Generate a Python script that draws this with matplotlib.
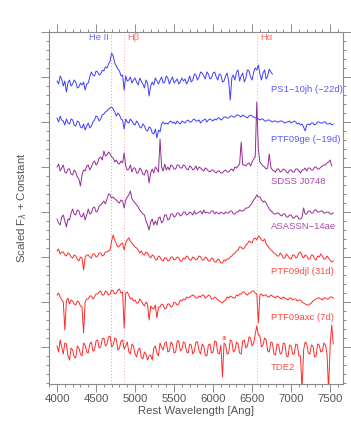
import matplotlib
matplotlib.use("Agg")
import matplotlib.pyplot as plt
from matplotlib.ticker import MultipleLocator
import numpy as np

plt.rcParams['font.family'] = ['Liberation Sans', 'DejaVu Sans']

# ---------------- data (relative flux, 20 A sampling) ----------------
wl_ps1 = np.arange(4000, 6761, 20)
fx_ps1 = [-3, -6, 2, -1, -8, -3, -14, -5, -2, -8,
          -6, -2, -4, -10, -9, -5, -7, -4, -12, -6,
          -5, 1, 6, 3, 2, 7, 6, 3, 4, 8,
          7, 11, 10, 14, 17, 25, 22, 15, 12, 9,
          7, 2, 3, -12, 2, -3, -2, 1, -5, -2,
          0, -4, -7, 0, -3, -6, -10, -2, -5, -18,
          -8, -4, -7, 0, -3, -6, -2, 1, -5, -4,
          2, 0, -6, -2, 1, -5, -3, -1, -6, -4,
          0, -3, -1, -6, -3, 2, -4, -2, 4, 3,
          -2, 1, 6, 5, 2, -1, 6, 4, -1, 0,
          5, 6, 1, -2, 4, 3, -4, -3, 2, 5,
          -3, -22, 0, 3, -2, 6, 8, -3, 2, 5,
          -4, 0, 8, 7, 1, -2, 6, 10, 8, 13,
          4, -2, 5, 8, -1, 2, 9, 6, 4]

wl_ge = np.arange(4000, 7541, 20)
fx_ge = [2, -2, 4, 0, -1, -5, 1, -3, -4, 1,
         0, -5, -6, -1, -2, -7, -8, -4, -10, -6,
         -3, -8, -6, -2, 0, 4, 3, -1, 1, 5,
         6, 8, 9, 11, 12, 13, 11, 8, 4, 7,
         5, 1, 0, -9, 1, -2, -3, 1, -1, -4,
         -5, -1, -3, -7, -8, -4, -6, -10, -11, -7,
         -8, -13, -14, -9, -18, -10, -12, -4, -2, -4,
         -3, -4, -2, -1, -3, -2, -4, -1, -3, -4,
         -1, -2, -3, -1, 0, -2, -2, 0, 1, -1,
         -1, 0, -3, -1, 0, 1, -2, 0, 1, 0,
         -1, 1, 0, 2, 2, 0, 1, 3, 3, 2,
         2, 4, 4, 3, 3, 5, 5, 4, 3, 5,
         4, 3, 2, 4, 5, 4, 3, 2, 2, 1,
         0, 1, 1, -1, -1, 0, 0, -1, -2, -1,
         -1, -2, -2, -1, -1, -2, -3, -2, -2, -1,
         -3, -2, -1, -2, -4, -3, -5, -4, -7, -11,
         -5, -4, -5, -3, -3, -5, -4, -2, -2, -3,
         -3, -2, -2, -4, -4, -3, -5, -4]

wl_sdss = np.arange(4000, 7521, 20)
fx_sdss = [0, 3, -4, -1, 2, -5, -6, -2, -2, -7,
           -8, -3, -5, -10, -12, -19, -8, -3, -4, 1,
           2, -3, 0, 4, 6, 2, 4, 9, 10, 7,
           16, 11, 12, 15, 13, 10, 9, 5, 7, 4,
           3, 6, 4, 14, 1, -3, -2, 2, -5, -1,
           -1, -6, -6, -1, -3, -7, -8, -3, -4, -16,
           -6, -2, -6, 0, -2, -5, 28, 0, -4, 3,
           -3, 0, -3, 2, 1, -2, -2, 2, 2, -1,
           -1, 2, 1, -2, -3, 1, 0, -3, -2, 1,
           -3, 0, -1, -3, -4, -1, -2, -4, -5, -3,
           -3, -5, -6, -4, -4, -6, -6, -4, -3, -5,
           -5, -3, -2, -4, 0, -1, 1, 3, 25, 2,
           2, 1, 3, 4, 1, 5, 8, 10, 65, 18,
           5, 3, 1, 0, -2, -1, 13, 0, -3, -4,
           -5, -2, -2, -5, -4, -2, -3, -5, -6, -3,
           -3, -5, -5, -2, -2, -4, -6, -3, -3, -1,
           -4, -1, -1, -3, -3, 0, 0, -2, -2, 0,
           1, 2, 2, 4, 5, 7, 1]

wl_asn = np.arange(4000, 7541, 20)
fx_asn = [-2, -6, -8, 0, 2, -4, -10, -2, -3, 4,
          8, 3, 2, 7, 6, 1, 0, 4, -3, 2,
          8, 3, 4, 9, 10, 5, 6, 11, 12, 14,
          16, 13, 18, 23, 22, 19, 20, 18, 17, 15,
          14, 17, 16, 9, 17, 20, 22, 26, 18, 16,
          14, 12, 10, 7, 5, 3, 2, -4, -8, -13,
          -5, -2, -8, -4, -8, -1, 0, -6, -4, 2,
          2, -3, -2, 3, 3, 0, 1, 4, 4, 1,
          2, 5, 5, 2, 3, 5, 4, 2, 6, 3,
          4, 5, 6, 3, 7, 4, 5, 4, 4, 6,
          6, 3, 5, 4, 3, 5, 4, 3, 5, 4,
          4, 6, 6, 3, 3, 5, 5, 7, 6, 6,
          7, 9, 9, 10, 12, 14, 17, 19, 22, 20,
          20, 17, 15, 16, 14, 11, 8, 6, 5, 3,
          3, 4, 4, 2, 1, 3, 3, 0, 0, 2,
          2, -1, -1, 1, 1, -2, -2, 0, 9, 3,
          3, 6, 6, 4, 4, 7, 7, 5, 5, 6,
          6, 4, 4, 5, 5, 3, 3, 4]

wl_djl = np.arange(4000, 7541, 20)
fx_djl = [2, 4, -1, 1, 1, -2, -3, 0, -1, -4,
          -5, -2, -3, -6, -8, -4, -5, -17, -4, -2,
          -2, -4, -5, -1, -1, -4, -3, 0, 0, -3,
          -2, 1, 1, 2, 3, 12, 18, 13, 9, 6,
          7, 9, 10, 3, 10, 13, 15, 12, 10, 8,
          6, 5, 3, 0, 2, -1, -2, 1, 0, -3,
          -5, -2, -3, -6, -7, -3, -4, -7, -8, -5,
          -5, -8, -7, -4, -4, -7, -6, -4, -5, -8,
          -8, -5, -6, -3, -4, -7, -7, -4, -5, -7,
          -6, -3, -4, -7, -7, -4, -5, -8, -8, -5,
          -6, -9, -9, -6, -7, -10, -10, -7, -8, -6,
          -6, -4, -3, -1, 0, 2, 3, 6, 6, 4,
          5, 8, 9, 12, 11, 10, 14, 15, 13, 17,
          16, 13, 12, 14, 9, 7, 5, 3, 2, 0,
          -1, -3, -3, 0, -2, -5, -5, -1, -3, -5,
          -6, -2, -2, -5, -4, 0, 1, -3, -5, -2,
          -3, -6, -6, -2, -2, -6, -7, -3, -4, -1,
          -3, -6, -6, -3, -5, -7, -9, -8]

wl_axc = np.arange(4000, 7541, 20)
fx_axc = [3, 5, 1, -2, -4, -32, -3, 0, -6, -2,
          -3, -6, -7, -3, -4, -8, -9, -35, -4, -1,
          -1, 2, 2, -1, 1, 4, 4, 6, 7, 3,
          3, 7, 6, 3, 4, 8, 7, 4, 5, 8,
          9, 5, 6, -30, 5, 6, 3, -1, 0, -3,
          -2, -5, -5, -1, -3, -6, -8, -4, -6, -22,
          -8, -10, -11, -7, -20, -9, -9, -6, -7, -11,
          -10, -6, -6, -9, -8, -4, -5, -7, -6, -2,
          -3, -1, -2, 1, 0, 1, 2, 3, 2, 0,
          0, 2, 1, 3, 3, 0, 1, 3, 2, -1,
          -1, 1, 0, -2, -3, -4, -5, -3, -2, 1,
          0, 2, 1, 0, 0, 3, 2, 4, 4, 6,
          6, 4, 3, 5, 5, 7, 7, 5, 4, -25,
          3, 4, 2, 3, 3, 1, 1, 3, 2, 1,
          0, 2, 1, 0, -1, 1, 0, -1, -2, 0,
          0, -2, -1, -1, -3, -2, -2, -4, -5, -6,
          -7, -7, -6, -5, -3, -2, -1, 0, 0, -1,
          -2, 0, 0, -1, -1, 1, 1, 0]

wl_tde2 = np.arange(4000, 7541, 20)
fx_tde2 = [2, -4, 8, 1, -6, 5, 4, -8, -12, 0,
           -2, -9, -10, 2, 0, -6, -8, 5, 3, -4,
           -5, 4, 6, -3, -2, 7, 8, 0, 1, 9,
           10, 2, 4, 11, 12, 1, 3, 10, 9, -2,
           0, 7, 8, -1, 2, 6, -4, -6, 4, 2,
           -6, -9, -2, 0, -9, -11, -4, -6, -12, -8,
           -7, -12, 0, 2, -5, -8, 5, 1, -2, 5,
           6, -4, -3, 6, 4, -5, -4, 7, 7, -3,
           -1, 6, 5, -4, -5, 4, 3, -6, -3, 6,
           6, -3, -6, 4, 2, -7, -8, 3, 4, -5,
           -4, 7, 6, -5, -6, 3, -29, 5, 3, -6,
           -5, 8, 7, -4, -2, 6, 4, -5, -6, 7,
           8, 0, 2, 11, 10, 2, 5, 14, 22, 13,
           12, 1, 3, 10, 8, -3, -4, 6, 5, -6,
           -7, 4, 3, -6, -5, 5, 4, -8, -9, 3,
           2, -6, -6, 4, 3, -8, -8, -42, -2, 6,
           4, -5, -6, 3, 2, -9, -8, 4, 3, -4,
           -3, 5, 3, -6, -42, 2, 23, 4]

offsets = [306, 264, 217, 167, 131, 86, 36]
names = ['PS1\u221210jh (\u221222d)', 'PTF09ge (\u221219d)', 'SDSS J0748', 'ASASSN\u221214ae',
         'PTF09djl (31d)', 'PTF09axc (7d)', 'TDE2']
label_y = [295, 245, 202, 157, 112, 66, 16]

line_names = ['He II', 'H\u03b2', 'H\u03b1']
line_wl = [4686, 4861, 6563]

# ---------------- styling ----------------
blue, purple, red = '#3d3dff', '#952a95', '#ff2a2a'
lblue, lpurple, lred = '#5a5aff', '#a84aa8', '#ff4a4a'
line_cols = [blue, blue, purple, purple, red, red, red]
text_cols = [lblue, lblue, lpurple, lpurple, lred, lred, lred]
gray = '#8a8a8a'
tgray = '#555555'

fig = plt.figure(figsize=(3.51, 4.32), dpi=100)
ax = fig.add_axes([49/351, 1-384/432, (343-49)/351, (384-32)/432])

wls = [wl_ps1, wl_ge, wl_sdss, wl_asn, wl_djl, wl_axc, wl_tde2]
fxs = [fx_ps1, fx_ge, fx_sdss, fx_asn, fx_djl, fx_axc, fx_tde2]

# reference lines
lcols = ['#a8a8ff', '#ffa8a8', '#ffa8a8']
for w, c in zip(line_wl, lcols):
    ax.axvline(w, color=c, ls=(0, (1, 2.2)), lw=0.7, zorder=1)

for wl, fx, off, col in zip(wls, fxs, offsets, line_cols):
    ax.plot(wl, np.asarray(fx) + off, color=col, lw=0.7, zorder=3)

for nm, ly, tc in zip(names, label_y, text_cols):
    ax.text(6744, ly, nm, color=tc, fontsize=6.8, ha='left', va='center', zorder=4)

ax.text(4660, 346, line_names[0], color='#6a6aff', fontsize=6.8, ha='right', va='center')
ax.text(4895, 346, line_names[1], color='#ff6a6a', fontsize=6.8, ha='left', va='center')
ax.text(6600, 346, line_names[2], color='#ff6a6a', fontsize=6.8, ha='left', va='center')
ax.text(6135, 46, '\u2295', color=red, fontsize=4, ha='center', va='center',
        family=['DejaVu Sans'])

ax.set_xlim(3897, 7665)
ax.set_ylim(0, 352)

ax.xaxis.set_major_locator(MultipleLocator(500))
ax.xaxis.set_minor_locator(MultipleLocator(100))
ax.yaxis.set_major_locator(MultipleLocator(45, offset=37))
ax.yaxis.set_minor_locator(MultipleLocator(9, offset=1))
ax.tick_params(which='both', direction='out', top=True, right=True, color=gray,
               labelcolor=tgray, labelsize=8.2, width=0.7, pad=2)
ax.tick_params(which='major', length=5.5)
ax.tick_params(which='minor', length=2.5)
ax.tick_params(axis='y', labelleft=False)
for s in ax.spines.values():
    s.set_color(gray)
    s.set_linewidth(0.8)

ax.set_xlabel('Rest Wavelength [Ang]', color=tgray, fontsize=8.2, labelpad=1)
ax.set_ylabel('Scaled F$_\\lambda$ + Constant', color=tgray, fontsize=8.2, labelpad=9)

fig.savefig('out.png', dpi=100)
